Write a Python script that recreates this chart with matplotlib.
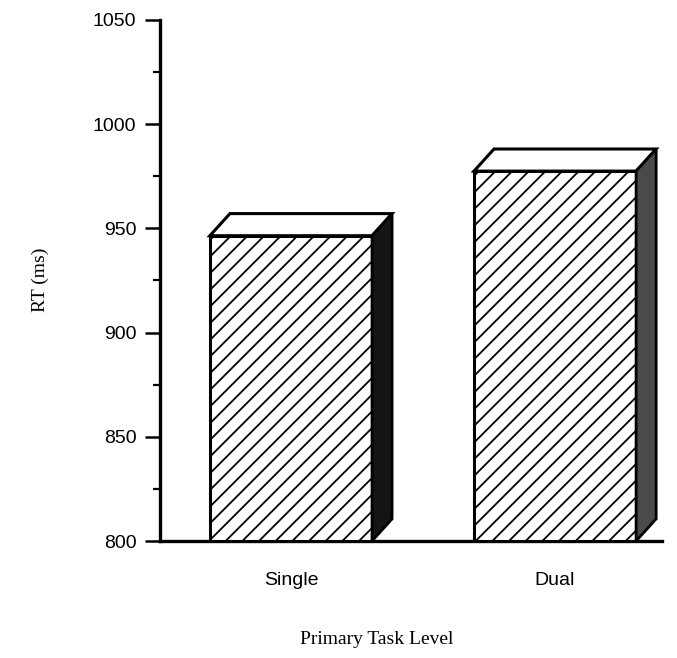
import matplotlib
matplotlib.use("Agg")
import matplotlib.pyplot as plt
from matplotlib.patches import Polygon, Rectangle
from matplotlib.ticker import MultipleLocator

categories = ["Single", "Dual"]
rt_values = [946.5, 977.5]
side_colors = ["#141414", "#4a4a4a"]
yticks = [800, 850, 900, 950, 1000, 1050]

plt.rcParams['hatch.linewidth'] = 1.3

fig = plt.figure(figsize=(6.77, 6.58), dpi=100)
ax = fig.add_axes([160/677, 117/658, 502/677, 521/658])

ymin, ymax = 800, 1050
ax.set_ylim(ymin, ymax)
ax.set_xlim(-0.496, 1.405)

width = 0.614
dx = 0.0758
dy = 10.6

for i, (cat, v) in enumerate(zip(categories, rt_values)):
    x0 = i - width / 2
    x1 = i + width / 2
    front = Rectangle((x0, ymin), width, v - ymin, facecolor="white",
                      edgecolor="black", hatch="//", linewidth=2.2, zorder=3)
    ax.add_patch(front)
    top = Polygon([(x0, v), (x1, v), (x1 + dx, v + dy), (x0 + dx, v + dy)],
                  closed=True, facecolor="white", edgecolor="black",
                  linewidth=2.2, zorder=3)
    ax.add_patch(top)
    side = Polygon([(x1, ymin), (x1, v), (x1 + dx, v + dy), (x1 + dx, ymin + dy)],
                   closed=True, facecolor=side_colors[i], edgecolor="black",
                   linewidth=2.0, zorder=3)
    ax.add_patch(side)

ax.set_xticks(range(len(categories)))
ax.set_xticklabels(categories, fontsize=14, family="Liberation Sans")
ax.tick_params(axis="x", length=0, pad=22)

ax.set_yticks(yticks)
ax.set_yticklabels([str(t) for t in yticks], fontsize=14, family="Liberation Sans")
ax.yaxis.set_minor_locator(MultipleLocator(25))
ax.tick_params(axis="y", which="major", length=11, width=1.8, direction="out", pad=6)
ax.tick_params(axis="y", which="minor", length=5, width=1.6, direction="out")

for s in ["top", "right"]:
    ax.spines[s].set_visible(False)
for s in ["left", "bottom"]:
    ax.spines[s].set_linewidth(2.4)

ax.set_ylabel("RT (ms)", family="Liberation Serif", fontsize=14)
ax.yaxis.set_label_coords(-(160 - 40) / 502, (541 - 280) / 521)
ax.set_xlabel("Primary Task Level", family="Liberation Serif", fontsize=14)
ax.xaxis.set_label_coords((377 - 160) / 502, -(640 - 541) / 521)
ax.xaxis.label.set_va("center")
ax.yaxis.label.set_va("center")

fig.savefig("out.png", dpi=100)
